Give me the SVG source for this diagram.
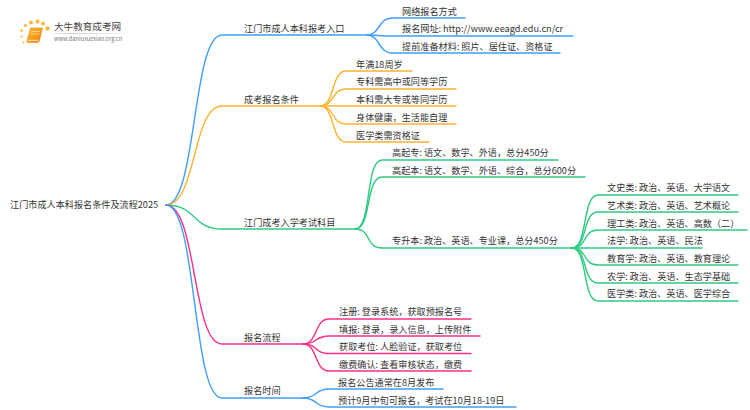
<svg xmlns="http://www.w3.org/2000/svg" width="750" height="410" viewBox="0 0 750 410">
<defs>
<linearGradient id="bk" x1="0" y1="0" x2="1" y2="1"><stop offset="0" stop-color="#fcc02e"/><stop offset="1" stop-color="#ee7d10"/></linearGradient>
<linearGradient id="ul" x1="0" y1="0" x2="1" y2="0"><stop offset="0" stop-color="#ccc" stop-opacity="0"/><stop offset=".3" stop-color="#ccc"/><stop offset="1" stop-color="#ccc" stop-opacity="0"/></linearGradient>
</defs>
<style>
text{font-family:"Noto Sans CJK SC","Noto Sans",sans-serif;font-size:9.15px;fill:#333}
#connectors path{fill:none;stroke-width:1.4;stroke-linecap:round}
.b{stroke:#3f9dfb}.o{stroke:#fbb32f}.g{stroke:#2fca82}.p{stroke:#fb2f86}
</style>
<rect width="750" height="410" fill="#fff"/>
<g id="logo">
<g fill="#fbb93a"><circle cx="25.500" cy="25.500" r="1.600"/><circle cx="31" cy="22.500" r="1.900"/><circle cx="37.500" cy="21.500" r="2"/><circle cx="43" cy="23.500" r="2"/><circle cx="47.500" cy="28.500" r="2.200"/><circle cx="21.500" cy="30.500" r="1.300"/><circle cx="21.500" cy="36.500" r="1"/><circle cx="23.500" cy="42.500" r="1"/></g>
<path d="M30.500 28H42.500L39.500 40.500Q39 42.500 37 42.500H28Q26.500 42.500 27 40.500Z" fill="url(#bk)" stroke="#ee8a14" stroke-width=".6"/>
<path d="M31.500 31.500H39.500M31 34H39" stroke="#fde6b0" stroke-width=".8"/>
<path d="M27.800 40.300H38.500" stroke="#fff3d6" stroke-width=".9"/>
<text x="54" y="30" style="font-size:9.600px;fill:#444">大牛教育成考网</text>
<rect x="46" y="33" width="88" height="1" fill="url(#ul)"/>
<text x="54" y="41" style="font-size:5.650px;fill:#777">www.daniuxuexiao.org.cn</text>
</g>
<g id="connectors">
<path class="b" d="M166 205C197 205 192 35 222 35H367"/>
<path class="o" d="M166 205C197 205 192 106 222 106H320"/>
<path class="g" d="M166 205C197 205 192 229 222 229H355"/>
<path class="p" d="M166 205C197 205 192 344 222 344H303"/>
<path class="b" d="M166 205C197 205 192 398 222 398H303"/>
<path class="b" d="M367 35C380 35 378 18 392 18H465"/>
<path class="b" d="M367 35C380 35 378 36 392 36H573"/>
<path class="b" d="M367 35C380 35 378 53 392 53H560"/>
<path class="o" d="M320 106C335 106 331 71 346 71H412"/>
<path class="o" d="M320 106C335 106 331 89 346 89H456"/>
<path class="o" d="M320 106C335 106 331 106 346 106H456"/>
<path class="o" d="M320 106C335 106 331 124 346 124H456"/>
<path class="o" d="M320 106C335 106 331 142 346 142H429"/>
<path class="g" d="M355 229C372 229 365 160 382 160H558"/>
<path class="g" d="M355 229C372 229 365 177 382 177H585"/>
<path class="g" d="M355 229C372 229 365 248 382 248H572"/>
<path class="g" d="M572 248C588 248 582 195 598 195H738"/>
<path class="g" d="M572 248C588 248 582 212 598 212H738"/>
<path class="g" d="M572 248C588 248 582 230 598 230H747"/>
<path class="g" d="M572 248C588 248 582 248 598 248H702"/>
<path class="g" d="M572 248C588 248 582 265 598 265H738"/>
<path class="g" d="M572 248C588 248 582 283 598 283H738"/>
<path class="g" d="M572 248C588 248 582 301 598 301H738"/>
<path class="p" d="M303 344C318 344 314 319 329 319H471"/>
<path class="p" d="M303 344C318 344 314 336 329 336H480"/>
<path class="p" d="M303 344C318 344 314 353.500 329 353.500H471"/>
<path class="p" d="M303 344C318 344 314 371 329 371H471"/>
<path class="b" d="M303 398C318 398 314 389 329 389H443"/>
<path class="b" d="M303 398C318 398 314 407 329 407H516"/>
</g>
<g id="root"><text x="10" y="208">江门市成人本科报名条件及流程2025</text></g>
<g id="n1"><text x="244" y="32">江门市成人本科报考入口</text></g>
<g id="n1-1"><text x="402" y="15">网络报名方式</text></g>
<g id="n1-2"><text x="402" y="32">报名网址: http://www.eeagd.edu.cn/cr</text></g>
<g id="n1-3"><text x="402" y="50">提前准备材料: 照片、居住证、资格证</text></g>
<g id="n2"><text x="244" y="103">成考报名条件</text></g>
<g id="n2-1"><text x="356" y="68">年满18周岁</text></g>
<g id="n2-2"><text x="356" y="85">专科需高中或同等学历</text></g>
<g id="n2-3"><text x="356" y="103">本科需大专或等同学历</text></g>
<g id="n2-4"><text x="356" y="121">身体健康，生活能自理</text></g>
<g id="n2-5"><text x="356" y="139">医学类需资格证</text></g>
<g id="n3"><text x="244" y="226">江门成考入学考试科目</text></g>
<g id="n3-1"><text x="392" y="156">高起专: 语文、数学、外语，总分450分</text></g>
<g id="n3-2"><text x="392" y="174">高起本: 语文、数学、外语、综合，总分600分</text></g>
<g id="n3-3"><text x="392" y="244">专升本: 政治、英语、专业课，总分450分</text></g>
<g id="n3-3-1"><text x="607" y="191">文史类: 政治、英语、大学语文</text></g>
<g id="n3-3-2"><text x="607" y="209">艺术类: 政治、英语、艺术概论</text></g>
<g id="n3-3-3"><text x="607" y="227">理工类: 政治、英语、高数（二）</text></g>
<g id="n3-3-4"><text x="607" y="244">法学: 政治、英语、民法</text></g>
<g id="n3-3-5"><text x="607" y="262">教育学: 政治、英语、教育理论</text></g>
<g id="n3-3-6"><text x="607" y="280">农学: 政治、英语、生态学基础</text></g>
<g id="n3-3-7"><text x="607" y="297">医学类: 政治、英语、医学综合</text></g>
<g id="n4"><text x="244" y="341">报名流程</text></g>
<g id="n4-1"><text x="339" y="315">注册: 登录系统，获取预报名号</text></g>
<g id="n4-2"><text x="339" y="333">填报: 登录，录入信息，上传附件</text></g>
<g id="n4-3"><text x="339" y="350">获取考位: 人脸验证，获取考位</text></g>
<g id="n4-4"><text x="339" y="368">缴费确认: 查看审核状态，缴费</text></g>
<g id="n5"><text x="244" y="394">报名时间</text></g>
<g id="n5-1"><text x="338" y="386">报名公告通常在8月发布</text></g>
<g id="n5-2"><text x="338" y="404">预计9月中旬可报名，考试在10月18-19日</text></g>
</svg>
